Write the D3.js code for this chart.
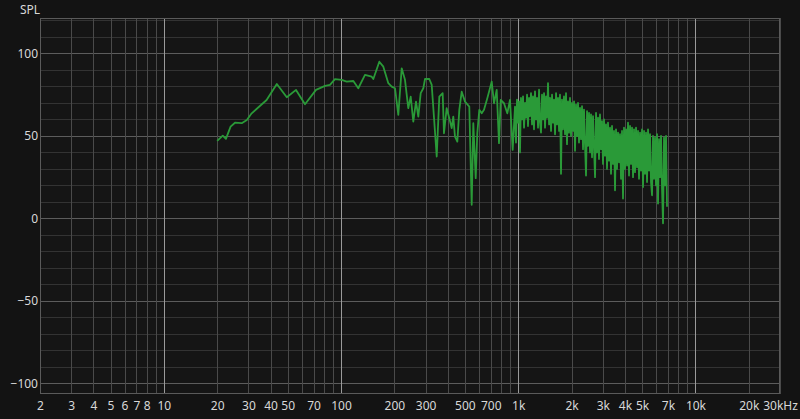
<!DOCTYPE html>
<html><head><meta charset="utf-8">
<script src="https://cdn.jsdelivr.net/npm/d3@7"></script>
<style>
html,body{margin:0;padding:0;background:#131313;}
svg{display:block;}
text{font-family:"Noto Sans","Open Sans",sans-serif;}
</style></head>
<body>
<svg id="chart" width="800" height="419"></svg>
<script>
// ---- data ----
const xTickValues = [2,3,4,5,6,7,8,10,20,30,40,50,70,100,200,300,500,700,1000,2000,3000,4000,5000,7000,10000,20000,30000];
const xTickLabels = ["2","3","4","5","6","7","8","10","20","30","40","50","70","100","200","300","500","700","1k","2k","3k","4k","5k","7k","10k","20k","30kHz"];
const yTickValues = [-100,-50,0,50,100];
const yAxisTitle = "SPL";

const freqLow = [20,21.5,22.4,23.8,25.2,27.5,29.4,31.3,38,43.4,49.4,55.7,62.6,72.2,81.2,86.6,92.4,100.8,107.6,117.3,125.1,136.5,148.9,152.1,164.4,173.2,184.8,193.1,201.6,210.4,219.9,229.5,239.5,247.2,255.7,264.8,272.9,281.5,291.2,297.7,314.8,324.8,346.6,358.5,374.5,380.9,394.5,408.1,421,429.9,439.5,453,464.9,479.6,500.6,529.3,546.1,557.6,575.3,587.3,602.8,621.9,640.8,668.9,708.2,729.7,755.7,778.6,796,830.9,867.4,898.3,930.2,958.6];
const splLow  = [47,50.2,48.2,55.6,58,57.7,59.7,63.7,71.8,81.5,73.4,77.9,69.2,77.9,80.3,80.9,84.4,84,82.9,83.3,78.9,87,85.9,84.5,95,92,82,79.9,78.9,62.7,91,84,66.8,73.8,58.7,70.8,61.7,75.9,78.9,84.5,84.5,80.9,37.5,73.8,75.9,51.6,66.8,60.7,54.7,61.7,49.6,46.5,65.8,76.8,70.8,67.8,8.2,57.7,24.4,51.6,65.8,63.7,65.8,72.8,82.9,69.8,77.9,45.6,71.8,69.8,63.7,71.8,41.5,67.8];

const freqHigh = [971,984,997,1010,1023,1036,1050,1064,1078,1092,1106,1121,1135,1150,1165,1180,1196,1211,1227,1243,1260,1276,1293,1310,1327,1344,1362,1380,1398,1416,1435,1453,1472,1492,1511,1531,1551,1571,1592,1613,1634,1655,1677,1699,1720,1743,1765,1788,1812,1836,1860,1884,1909,1934,1959,1985,2011,2037,2064,2091,2118,2146,2174,2202,2231,2260,2290,2320,2350,2381,2412,2444,2476,2508,2541,2574,2608,2642,2677,2712,2747,2783,2820,2856,2893,2931,2969,3008,3048,3087,3128,3169,3210,3252,3295,3338,3382,3426,3471,3516,3562,3609,3656,3704,3752,3801,3851,3901,3952,4004,4056,4110,4163,4218,4273,4329,4386,4443,4501,4560,4620,4680,4741,4803,4866,4930,4994,5060,5126,5193,5261,5330,5399,5470,5541,5614,5687,5761,5837,5913,5990,6069,6148,6229,6310,6393,6476,6561,6647,6734,6822,6911];
const splHigh  = [46,72,58,71,40,73,60,74,55,70,61,75,56,73,62,76,57,74,54,77,60,73,55,78,58,52,75,60,76,55,74,61,82,57,73,53,75,58,72,51,76,57,73,53,75,27,72,54,74,51,76,45,71,52,73,50,70,53,71,41,69,50,70,46,67,48,68,42,66,45,26,65,44,64,40,63,37,62,43,25,64,40,61,36,63,42,59,33,60,38,57,30,58,35,55,27,56,33,53,17,54,30,52,34,51,24,53,12,55,30,54,32,58,26,56,33,55,25,54,28,55,31,53,24,52,29,54,19,53,27,52,22,54,29,51,22,14,50,24,49,20,51,9,48,25,50,18,-3,49,20,50,7];

// ---- chart ----
const W = 800, H = 419;
const m = {left:40, right:20, top:18, bottom:25};
const svg = d3.select("#chart");
svg.append("rect").attr("width",W).attr("height",H).attr("fill","#131313");

const x = d3.scaleLog().domain([2,30000]).range([m.left, W - m.right]);
const y = d3.scaleLinear().domain([-106.5,121.5]).range([H - m.bottom, m.top]);

const g = svg.append("g");
g.append("rect").attr("x",m.left).attr("y",m.top)
  .attr("width",x.range()[1]-m.left).attr("height",y.range()[0]-m.top).attr("fill","#151515");

// horizontal grid
const hMinor = d3.range(-100,121,10);
g.selectAll("line.hg").data(hMinor).enter().append("line")
  .attr("x1",m.left).attr("x2",x.range()[1])
  .attr("y1",d=>Math.round(y(d))+0.5).attr("y2",d=>Math.round(y(d))+0.5)
  .attr("stroke",d=> d%50===0 ? "#5c5c5c" : "#333")
  .attr("stroke-width",1);

// vertical grid
const vLines = [];
for (let dec=1; dec<=10000; dec*=10) for (let k=1;k<=9;k++){ const v=dec*k; if(v>=2 && v<=30000) vLines.push(v); }
g.selectAll("line.vg").data(vLines).enter().append("line")
  .attr("x1",d=>Math.round(x(d))+0.5).attr("x2",d=>Math.round(x(d))+0.5)
  .attr("y1",m.top).attr("y2",y.range()[0])
  .attr("stroke",d=>{ const l=Math.log10(d); return Math.abs(l-Math.round(l))<1e-9 ? "#9a9a9a" : "#4a4a4a"; })
  .attr("stroke-width",1);

// frame
g.append("rect").attr("x",m.left+0.5).attr("y",m.top+0.5)
  .attr("width",x.range()[1]-m.left-1).attr("height",y.range()[0]-m.top-1)
  .attr("fill","none").attr("stroke","#5a5a5a");

// axes labels via d3 axes
const xAxis = d3.axisBottom(x).tickValues(xTickValues)
  .tickFormat((d,i)=>xTickLabels[i]).tickSize(0).tickPadding(6);
const xa = svg.append("g").attr("transform",`translate(0,${y.range()[0]})`).call(xAxis);
xa.select(".domain").remove();
xa.selectAll("text").attr("fill","#d8d8d8").attr("font-size",12).attr("dy","0.85em");

const yAxis = d3.axisLeft(y).tickValues(yTickValues).tickSize(0).tickPadding(2);
const ya = svg.append("g").attr("transform",`translate(${m.left},0)`).call(yAxis);
ya.select(".domain").remove();
ya.selectAll("text").attr("fill","#d8d8d8").attr("font-size",12);

svg.append("text").attr("x",20).attr("y",14).attr("fill","#d8d8d8")
  .attr("font-size",12).text(yAxisTitle);

// curve
const pts = freqLow.map((f,i)=>[f,splLow[i]]).concat(freqHigh.map((f,i)=>[f,splHigh[i]]));
const line = d3.line().x(d=>x(d[0])).y(d=>y(d[1]));
svg.append("path").datum(pts).attr("d",line)
  .attr("fill","none").attr("stroke","#2a9a38").attr("stroke-width",1.8)
  .attr("stroke-linejoin","round");
</script>
</body></html>
